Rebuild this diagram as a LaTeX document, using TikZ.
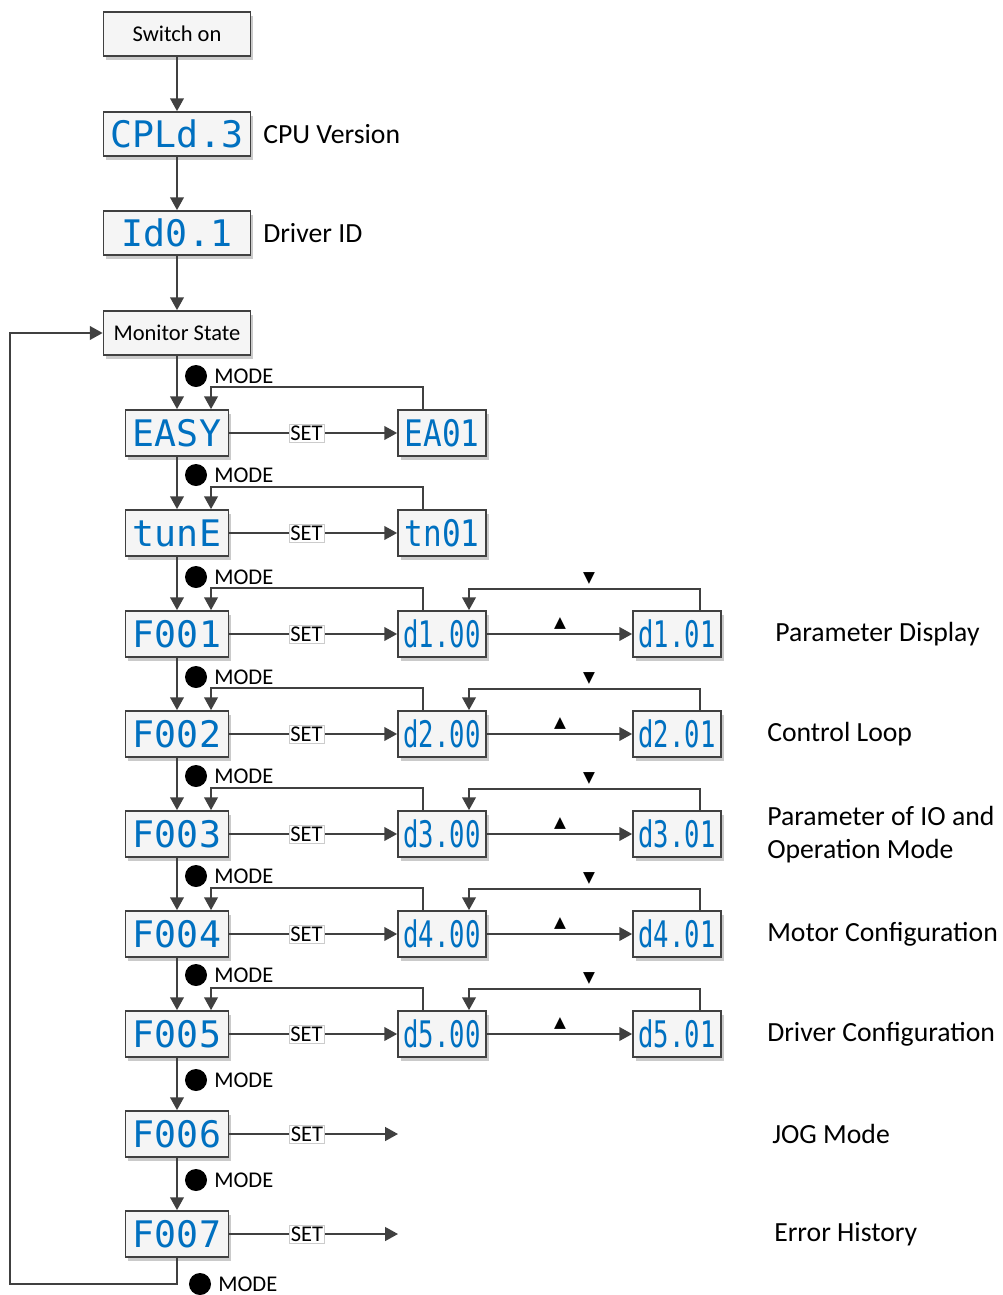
\documentclass[tikz,border=0pt]{standalone}
\usepackage{fontspec}
\setmainfont{Carlito}
\newfontfamily\segfont{DejaVu Sans Mono}
\newfontfamily\segmid{DejaVu Sans Mono}[FakeStretch=0.85]
\newfontfamily\segtight{DejaVu Sans Mono}[FakeStretch=0.7]
\newfontfamily\symfont{DejaVu Sans}
\usetikzlibrary{arrows.meta,positioning,shadows}
\definecolor{segblue}{RGB}{0,112,192}
\definecolor{linegray}{RGB}{64,64,64}
\tikzset{
  boxbase/.style={draw=linegray, line width=1.2pt, fill=gray!8, inner sep=0pt,
    drop shadow={shadow xshift=2pt, shadow yshift=-2.5pt, fill=gray!70, opacity=.6}},
  startbox/.style={boxbase, minimum width=3.675cm, minimum height=1.1cm,
    font=\fontsize{16}{19}\selectfont},
  topseg/.style={boxbase, minimum width=3.675cm, minimum height=1.1cm, text=segblue,
    font=\segfont\fontsize{26}{26}\selectfont},
  fbox/.style={boxbase, minimum width=2.575cm, minimum height=1.15cm, text=segblue,
    font=\segfont\fontsize{26}{26}\selectfont},
  dbox/.style={boxbase, minimum width=2.2cm, minimum height=1.15cm, text=segblue,
    font=\segtight\fontsize{26}{26}\selectfont},
  ebox/.style={dbox, font=\segmid\fontsize{26}{26}\selectfont},
  arr/.style={draw=linegray, line width=1.4pt, -{Triangle[length=3.2mm,width=3.4mm]}},
  setlabel/.style={draw=gray!40, fill=white, inner sep=1pt, line width=0.4pt,
    font=\fontsize{16}{18}\selectfont},
  modedot/.style={circle, fill=black, minimum size=0.55cm, inner sep=0pt},
  modelabel/.style={inner sep=0pt, font=\fontsize{16}{19}\selectfont},
  sidelabel/.style={anchor=west, inner sep=0pt, align=left,
    font=\fontsize{19.7}{23.5}\selectfont},
  marker/.style={inner sep=0pt, font=\symfont\fontsize{11}{11}\selectfont}
}

\begin{document}
\begin{tikzpicture}[x=0.025cm, y=-0.025cm]
  \useasboundingbox (0,0) rectangle (1003,1295);

  % start-up sequence
  \node[startbox] (sw) at (177,34) {Switch on};
  \node[topseg] (cpu) at (177,134) {CPLd.3};
  \node[topseg] (drvid) at (177,233) {Id0.1};
  \node[startbox] (mon) at (177,333) {Monitor State};
  \node[sidelabel] at (263,134) {CPU Version};
  \node[sidelabel] at (263,233) {Driver ID};
  \draw[arr] (sw) -- (cpu);
  \draw[arr] (cpu) -- (drvid);
  \draw[arr] (drvid) -- (mon);

  % menu column
  \node[fbox] (easy) at (177,433) {EASY};
  \node[fbox] (tune) at (177,533) {tunE};
  \foreach \i/\yy in {1/634,2/734,3/834,4/934,5/1034,6/1134,7/1234}
    \node[fbox] (f\i) at (177,\yy) {F00\i};

  % MODE steps
  \foreach \a/\b/\yy in {mon/easy/376,easy/tune/475,tune/f1/577,f1/f2/677,f2/f3/776,
      f3/f4/876,f4/f5/975,f5/f6/1080,f6/f7/1180} {
    \draw[arr] (\a) -- (\b);
    \node[modedot] (dot-\b) at (196,\yy) {};
    \node[modelabel, anchor=west] at (214,\yy) {MODE};
  }

  % EASY and tune sub menus
  \node[ebox] (ea) at (442,433) {EA01};
  \node[ebox] (tn) at (442,533) {tn01};
  \foreach \m/\s in {easy/ea,tune/tn} {
    \draw[arr] (\m) -- node[setlabel, pos=0.46] {SET} (\s);
    \draw[arr] ([xshift=-0.475cm]\s.north) |- ([xshift=0.85cm,yshift=0.55cm]\m.north)
      -- ([xshift=0.85cm]\m.north);
  }

  % parameter groups
  \foreach \i/\yy in {1/634,2/734,3/834,4/934,5/1034} {
    \node[dbox] (p\i) at (442,\yy) {d\i.00};
    \node[dbox] (q\i) at (677,\yy) {d\i.01};
    \draw[arr] (f\i) -- node[setlabel, pos=0.46] {SET} (p\i);
    \draw[arr] ([xshift=-0.475cm]p\i.north) |- ([xshift=0.85cm,yshift=0.55cm]f\i.north)
      -- ([xshift=0.85cm]f\i.north);
    \draw[arr] (p\i) -- (q\i);
    \node[marker] (up\i) at (560,\yy-11) {▲};
    \draw[arr] ([xshift=0.575cm]q\i.north) |- ([xshift=0.675cm,yshift=0.525cm]p\i.north)
      -- ([xshift=0.675cm]p\i.north);
    \node[marker] (down\i) at (589,\yy-56) {▼};
  }

  % JOG and error history
  \coordinate (jogend) at (398,1134);
  \coordinate (errend) at (398,1234);
  \draw[arr] (f6) -- node[setlabel, pos=0.46] {SET} (jogend);
  \draw[arr] (f7) -- node[setlabel, pos=0.46] {SET} (errend);

  % back to monitor state
  \coordinate (loopcorner) at (10,1284);
  \draw[arr] (f7.south) |- (loopcorner) |- (mon.west);
  \node[modedot] (dot-end) at (200,1284) {};
  \node[modelabel, anchor=west] at (218,1284) {MODE};

  % group names
  \node[sidelabel] at (775,634) {Parameter Display};
  \node[sidelabel] at (767,734) {Control Loop};
  \node[sidelabel] at (767,835) {Parameter of IO and\\Operation Mode};
  \node[sidelabel] at (767,934) {Motor Configuration};
  \node[sidelabel] at (767,1034) {Driver Configuration};
  \node[sidelabel] at (772,1134) {JOG Mode};
  \node[sidelabel] at (774,1234) {Error History};
\end{tikzpicture}
\end{document}
